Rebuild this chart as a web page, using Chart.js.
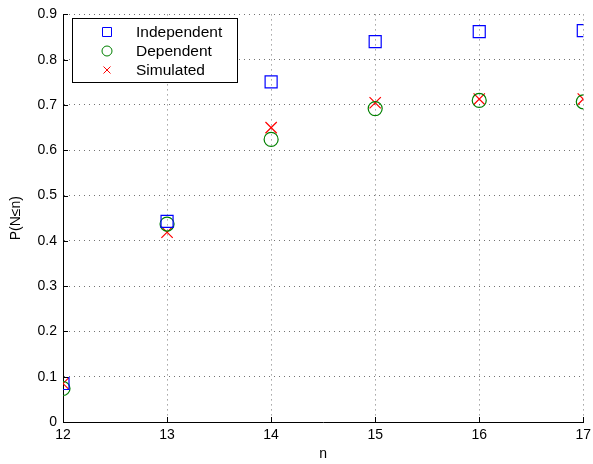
<!DOCTYPE html>
<html>
<head>
<meta charset="utf-8">
<script src="https://cdn.jsdelivr.net/npm/chart.js@4"></script>
<style>
  html, body { margin: 0; padding: 0; background: #fff; }
  #wrap { width: 593px; height: 464px; }
</style>
</head>
<body>
<div id="wrap"><canvas id="chart" width="593" height="464"></canvas></div>
<script>
const nValues = [12, 13, 14, 15, 16, 17];
const independent = [0.085, 0.443, 0.751, 0.840, 0.862, 0.864];
const dependent = [0.074, 0.437, 0.624, 0.692, 0.710, 0.707];
const simulated = [0.085, 0.419, 0.650, 0.705, 0.713, 0.713];
const yTicks = [0, 0.1, 0.2, 0.3, 0.4, 0.5, 0.6, 0.7, 0.8, 0.9];

const FONT = 'Liberation Sans, Arial, Helvetica, sans-serif';

function toPoints(ys) {
    return nValues.map((n, i) => ({ x: n, y: ys[i] }));
}

// legend box drawn inside the plot, matlab style
const boxLegend = {
    id: 'boxLegend',
    afterDraw(chart) {
        const ctx = chart.ctx;
        const x0 = 72, y0 = 18, w = 165, h = 64;
        ctx.save();
        ctx.fillStyle = '#fff';
        ctx.fillRect(x0, y0, w, h);
        ctx.strokeStyle = '#000';
        ctx.lineWidth = 1;
        ctx.strokeRect(x0 + 0.5, y0 + 0.5, w, h);
        ctx.font = '15.5px ' + FONT;
        ctx.textBaseline = 'middle';
        chart.data.datasets.forEach((ds, i) => {
            const cy = y0 + 14 + i * 19;
            const cx = x0 + 35;
            ctx.strokeStyle = ds.borderColor;
            ctx.lineWidth = 1;
            ctx.beginPath();
            if (ds.pointStyle === 'rect') {
                ctx.rect(cx - 4.5, cy - 4.5, 9, 9);
            } else if (ds.pointStyle === 'circle') {
                ctx.arc(cx, cy, 5, 0, Math.PI * 2);
            } else {
                ctx.moveTo(cx - 3.5, cy - 3.5); ctx.lineTo(cx + 3.5, cy + 3.5);
                ctx.moveTo(cx + 3.5, cy - 3.5); ctx.lineTo(cx - 3.5, cy + 3.5);
            }
            ctx.stroke();
            ctx.fillStyle = '#000';
            ctx.fillText(ds.label, x0 + 64, cy + 1);
        });
        ctx.restore();
    }
};

// small inward ticks on left and bottom axes
const innerTicks = {
    id: 'innerTicks',
    afterDatasetsDraw(chart) {
        const ctx = chart.ctx;
        const xs = chart.scales.x, ys = chart.scales.y;
        const area = chart.chartArea;
        ctx.save();
        ctx.strokeStyle = '#000';
        ctx.lineWidth = 1;
        ctx.beginPath();
        yTicks.forEach(v => {
            const py = Math.round(ys.getPixelForValue(v)) + 0.5;
            ctx.moveTo(area.left, py);
            ctx.lineTo(area.left + 5, py);
        });
        nValues.forEach(v => {
            const px = Math.round(xs.getPixelForValue(v)) + 0.5;
            ctx.moveTo(px, area.bottom);
            ctx.lineTo(px, area.bottom - 5);
        });
        ctx.stroke();
        ctx.restore();
    }
};

new Chart(document.getElementById('chart'), {
    type: 'scatter',
    data: {
        datasets: [
            { label: 'Independent', data: toPoints(independent), pointStyle: 'rect', borderColor: '#0000ff', backgroundColor: 'rgba(0,0,0,0)', pointRadius: 8.5, pointBorderWidth: 1.2 },
            { label: 'Dependent', data: toPoints(dependent), pointStyle: 'circle', borderColor: '#008000', backgroundColor: 'rgba(0,0,0,0)', pointRadius: 7, pointBorderWidth: 1.2 },
            { label: 'Simulated', data: toPoints(simulated), pointStyle: 'crossRot', borderColor: '#ff0000', backgroundColor: 'rgba(0,0,0,0)', pointRadius: 8, pointBorderWidth: 1.2 }
        ]
    },
    options: {
        responsive: false,
        animation: false,
        layout: { padding: { top: 10, right: 9, left: 0, bottom: 0 } },
        plugins: {
            legend: { display: false },
            tooltip: { enabled: false }
        },
        scales: {
            x: {
                type: 'linear',
                min: 12, max: 17,
                afterFit: s => { s.height = 42; s.paddingLeft = 0; s.paddingRight = 0; },
                ticks: { stepSize: 1, color: '#000', font: { family: FONT, size: 14 }, padding: 5 },
                grid: { color: 'rgba(0,0,0,0.55)', drawTicks: false },
                border: { display: true, color: '#000', dash: [1, 4] },
                title: { display: true, text: 'n', color: '#000', font: { family: FONT, size: 14 }, padding: { top: 0, bottom: 1 } }
            },
            y: {
                min: 0, max: 0.9,
                afterFit: s => { s.width = 63; },
                afterBuildTicks: s => { s.ticks = yTicks.map(v => ({ value: v })); },
                ticks: {
                    color: '#000', font: { family: FONT, size: 14 }, padding: 6,
                    callback: v => v === 0 ? '0' : v.toFixed(1)
                },
                grid: { color: 'rgba(0,0,0,0.55)', drawTicks: false },
                border: { display: true, color: '#000', dash: [1, 4] },
                title: { display: true, text: 'P(N≤n)', color: '#000', font: { family: FONT, size: 14 }, padding: { top: 8, bottom: 0 } }
            }
        }
    },
    plugins: [innerTicks, boxLegend]
});
</script>
</body>
</html>
